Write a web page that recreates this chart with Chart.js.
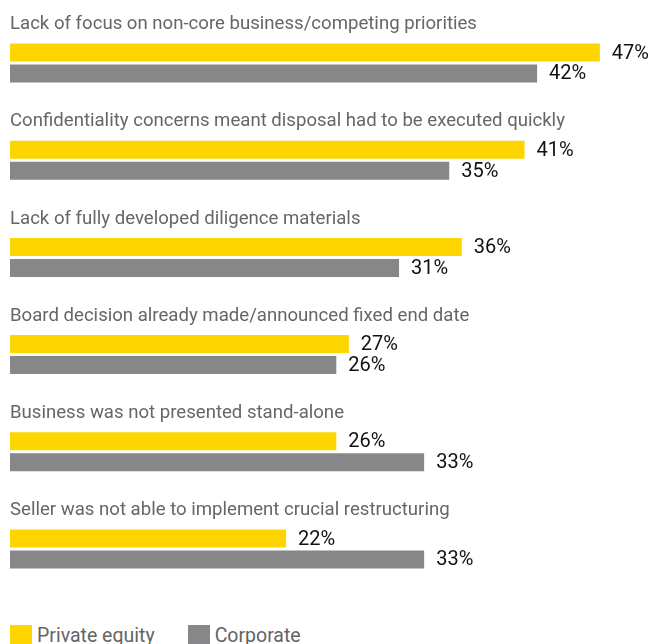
<!DOCTYPE html>
<html>
<head>
<meta charset="utf-8">
<script src="https://cdn.jsdelivr.net/npm/chart.js@4"></script>
<style>
    html, body {
        margin: 0;
        padding: 0;
        background: #fff;
        overflow: hidden;
    }
    #wrap {
        width: 651px;
        height: 644px;
        overflow: hidden;
    }
    #chart-box {
        position: relative;
        width: 651px;
        height: 600px;
    }
    .legend {
        display: flex;
        margin-top: 25px;
        padding-left: 10px;
        font-family: Roboto, sans-serif;
        font-size: 19.5px;
        color: #646464;
    }
    .legend-item {
        display: flex;
        align-items: flex-start;
        margin-right: 33px;
    }
    .legend-item .swatch {
        width: 22px;
        height: 22px;
        margin-right: 5px;
    }
    .legend-item span {
        line-height: 22px;
    }
</style>
</head>
<body>
<div id="wrap">
    <div id="chart-box"><canvas id="reasons"></canvas></div>
    <div class="legend" id="legend"></div>
</div>
<script>
// Reasons given for a failed / rushed disposal, by seller type (%)
const reasons = [
    'Lack of focus on non-core business/competing priorities',
    'Confidentiality concerns meant disposal had to be executed quickly',
    'Lack of fully developed diligence materials',
    'Board decision already made/announced fixed end date',
    'Business was not presented stand-alone',
    'Seller was not able to implement crucial restructuring'
];
const privateEquity = [47, 41, 36, 27, 26, 22];
const corporate = [42, 35, 31, 26, 33, 33];

const seriesNames = ['Private equity', 'Corporate'];
const seriesColors = ['#ffd500', '#878789'];

// Writes the category text above each pair of bars and the % after each bar
const barLabels = {
    id: 'barLabels',
    afterDatasetsDraw(chart) {
        const ctx = chart.ctx;
        ctx.save();
        ctx.textBaseline = 'middle';

        // category titles
        const firstMeta = chart.getDatasetMeta(0);
        ctx.font = '18.6px Roboto, sans-serif';
        ctx.fillStyle = '#666666';
        ctx.textAlign = 'left';
        firstMeta.data.forEach((bar, i) => {
            const top = bar.y - bar.height / 2;
            ctx.fillText(chart.data.labels[i], chart.chartArea.left, top - 19);
        });

        // value labels
        ctx.font = '20px Roboto, sans-serif';
        ctx.fillStyle = '#111111';
        chart.data.datasets.forEach((ds, d) => {
            chart.getDatasetMeta(d).data.forEach((bar, i) => {
                ctx.fillText(ds.data[i] + '%', bar.x + 12, bar.y + 1);
            });
        });
        ctx.restore();
    }
};

const chart = new Chart(document.getElementById('reasons'), {
    type: 'bar',
    data: {
        labels: reasons,
        datasets: [
            {
                label: seriesNames[0],
                data: privateEquity,
                backgroundColor: seriesColors[0]
            },
            {
                label: seriesNames[1],
                data: corporate,
                backgroundColor: seriesColors[1]
            }
        ]
    },
    options: {
        indexAxis: 'y',
        responsive: true,
        maintainAspectRatio: false,
        animation: false,
        categoryPercentage: 0.432,
        barPercentage: 0.857,
        layout: {
            padding: { left: 10, right: 13.5, top: 14.4, bottom: 2.4 }
        },
        plugins: {
            legend: { display: false },
            tooltip: { enabled: false }
        },
        scales: {
            x: { display: false, min: 0, max: 50 },
            y: { display: false }
        }
    },
    plugins: [barLabels]
});

// Legend under the chart
const legendEl = document.getElementById('legend');
chart.data.datasets.forEach(ds => {
    const item = document.createElement('div');
    item.className = 'legend-item';
    item.innerHTML = `<div class="swatch" style="background:${ds.backgroundColor}"></div><span>${ds.label}</span>`;
    legendEl.appendChild(item);
});
</script>
</body>
</html>
